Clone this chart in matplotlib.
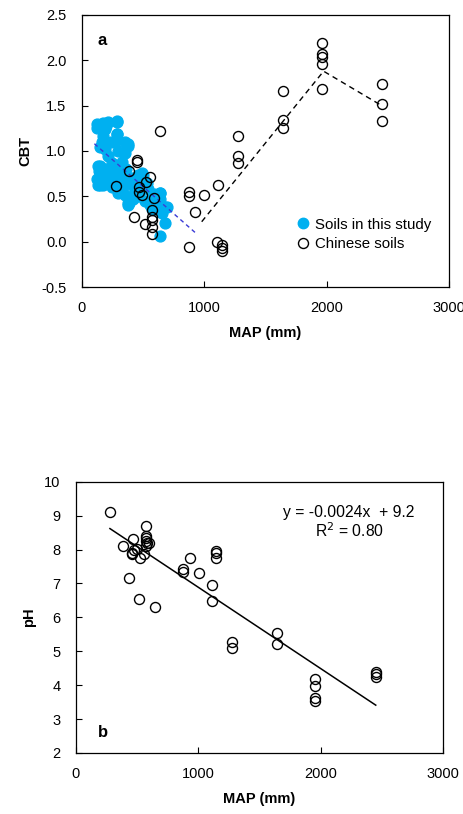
import matplotlib
matplotlib.use("Agg")
import matplotlib.pyplot as plt
from matplotlib.lines import Line2D

plt.rcParams["font.family"] = ["Liberation Sans", "DejaVu Sans"]

# panel a: soils in this study (blue, filled)
study_map = [177, 218, 286, 191, 177, 286, 272, 354, 381, 300, 354, 163, 150, 191, 218,
             150, 163, 150, 136, 177, 218, 191, 245, 272, 300, 327, 300, 354, 327, 300,
             354, 381, 381, 409, 436, 422, 463, 490, 504, 545, 572, 599, 640, 681, 654,
             681, 572, 641, 531, 463, 123, 177, 292, 286, 382, 136, 123, 150, 390, 504,
             641, 695, 641, 125, 140, 200, 240, 330, 360, 410, 440, 470, 520, 560, 600,
             620, 590, 250, 230, 260]
study_cbt = [1.31, 1.32, 1.32, 1.24, 1.17, 1.19, 1.10, 1.10, 1.08, 1.00, 0.98, 1.10, 1.04, 1.02, 0.95,
             0.84, 0.76, 0.69, 0.62, 0.62, 0.69, 0.80, 0.87, 0.84, 0.76, 0.73, 0.65, 0.65, 0.58, 0.54,
             0.51, 0.43, 0.40, 0.62, 0.54, 0.47, 0.73, 0.76, 0.65, 0.58, 0.47, 0.43, 0.54, 0.38, 0.32,
             0.21, 0.36, 0.06, 0.65, 0.58, 1.30, 1.30, 1.33, 1.19, 1.06, 0.84, 0.69, 0.63, 0.43, 0.74,
             0.54, 0.38, 0.47, 1.25, 0.78, 1.28, 1.10, 0.88, 0.80, 0.70, 0.62, 0.50, 0.45, 0.40, 0.36,
             0.45, 0.53, 0.60, 0.78, 0.70]

# panel a: Chinese soils (open circles)
cn_map_a = [641, 455, 455, 385, 278, 466, 466, 496, 526, 559, 594, 428, 513, 573, 573, 573,
            573, 573, 875, 875, 875, 927, 1001, 1110, 1104, 1143, 1143, 1143, 1276, 1276, 1276,
            1644, 1644, 1644, 1963, 1963, 1963, 1963, 1963, 2454, 2454, 2454]
cn_cbt = [1.22, 0.90, 0.88, 0.78, 0.61, 0.60, 0.55, 0.51, 0.66, 0.71, 0.48, 0.27, 0.20, 0.35, 0.27,
          0.24, 0.16, 0.08, 0.55, 0.50, -0.06, 0.33, 0.51, 0.62, 0.00, -0.04, -0.07, -0.10, 1.17,
          0.95, 0.87, 1.66, 1.34, 1.25, 2.19, 2.07, 2.04, 1.96, 1.68, 1.74, 1.52, 1.33]

# trend lines in panel a
study_trend_x = [104, 927]
study_trend_y = [1.08, 0.10]
cn_trend_x = [980, 1975, 2450]
cn_trend_y = [0.22, 1.88, 1.50]

# panel b: Chinese soils pH
cn_map_b = [280, 389, 470, 457, 457, 476, 498, 525, 560, 574, 574, 574, 574, 585, 601, 574,
            432, 514, 647, 876, 876, 930, 1006, 1110, 1110, 1142, 1142, 1142, 1275, 1275,
            1640, 1640, 1958, 1958, 1958, 1958, 2450, 2450, 2450]
cn_ph = [9.12, 8.11, 8.32, 7.91, 7.86, 7.98, 8.03, 7.76, 7.86, 8.68, 8.40, 8.33, 8.25, 8.19,
         8.18, 8.09, 7.17, 6.53, 6.31, 7.44, 7.35, 7.75, 7.30, 6.95, 6.49, 7.96, 7.89, 7.76,
         5.28, 5.09, 5.53, 5.22, 4.19, 3.97, 3.62, 3.52, 4.40, 4.33, 4.23]
fit_slope, fit_icpt = -0.0024, 9.29
fit_x = [280, 2450]

BLUE = "#00B0F0"

fig = plt.figure(figsize=(4.64, 8.14), dpi=100)
ax1 = fig.add_axes([0.176, 0.6474, 0.792, 0.3342])
ax2 = fig.add_axes([0.163, 0.0750, 0.792, 0.3332])


def style(ax):
    ax.tick_params(axis="both", direction="in", length=4, width=0.8, labelsize=10.5,
                   top=False, right=False)
    ax.tick_params(axis="y", pad=11)
    ax.tick_params(axis="x", pad=10)
    for s in ax.spines.values():
        s.set_linewidth(0.9)
    ax.set_xlim(0, 3000)
    ax.set_xticks([0, 1000, 2000, 3000])
    ax.set_xlabel("MAP (mm)", fontsize=10.5, fontweight="bold", labelpad=8)


# --- panel a
ax1.plot(study_map, study_cbt, "o", ms=7.8, color=BLUE, mec=BLUE, ls="none")
ax1.plot(study_trend_x, study_trend_y, ls=(0, (3, 2.5)), color="#3B3BD6", lw=1)
ax1.plot(cn_map_a, cn_cbt, "o", ms=7.2, mfc="none", mec="black", mew=1, ls="none")
ax1.plot(cn_trend_x, cn_trend_y, ls=(0, (4, 3)), color="black", lw=1)
ax1.set_ylim(-0.5, 2.5)
ax1.set_yticks([-0.5, 0, 0.5, 1.0, 1.5, 2.0, 2.5])
ax1.set_yticklabels(["-0.5", "0.0", "0.5", "1.0", "1.5", "2.0", "2.5"])
ax1.set_ylabel("CBT", fontsize=10.5, fontweight="bold", labelpad=6)
style(ax1)
ax1.text(0.057, 0.905, "a", transform=ax1.transAxes, fontsize=12, fontweight="bold",
         ha="center", va="center")
handles = [Line2D([], [], marker="o", ls="none", ms=7.5, color=BLUE),
           Line2D([], [], marker="o", ls="none", ms=7.2, mfc="none", mec="black", mew=1)]
ax1.legend(handles, ["Soils in this study", "Chinese soils"], loc="lower right",
           bbox_to_anchor=(0.975, 0.1), frameon=False, fontsize=10.8, handletextpad=-0.2,
           labelspacing=0.35, borderaxespad=0.2)

# --- panel b
ax2.plot(cn_map_b, cn_ph, "o", ms=7.2, mfc="none", mec="black", mew=1, ls="none")
ax2.plot(fit_x, [fit_slope * v + fit_icpt for v in fit_x], color="black", lw=1.1)
ax2.set_ylim(2, 10)
ax2.set_yticks(range(2, 11))
ax2.set_ylabel("pH", fontsize=10.5, fontweight="bold", labelpad=6)
style(ax2)
ax2.text(0.744, 0.886, "y = -0.0024x  + 9.2", transform=ax2.transAxes, fontsize=11.3,
         ha="center", va="center")
ax2.text(0.744, 0.819, "R$^2$ = 0.80", transform=ax2.transAxes, fontsize=11.3,
         ha="center", va="center")
ax2.text(0.074, 0.074, "b", transform=ax2.transAxes, fontsize=12, fontweight="bold",
         ha="center", va="center")

fig.savefig("out.png", dpi=100)
